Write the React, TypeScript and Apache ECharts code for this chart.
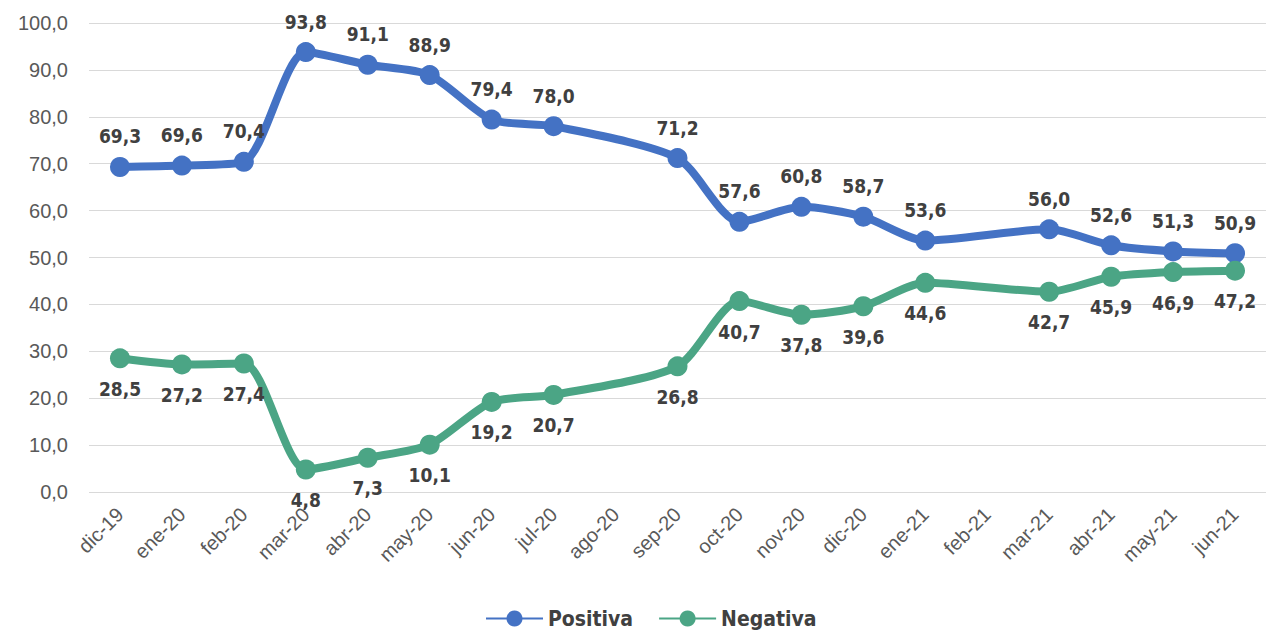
import React, { useEffect, useRef } from "react";
import * as echarts from "echarts";

const categories = ["dic-19","ene-20","feb-20","mar-20","abr-20","may-20","jun-20","jul-20","ago-20","sep-20","oct-20","nov-20","dic-20","ene-21","feb-21","mar-21","abr-21","may-21","jun-21"];
const positiva = [69.3, 69.6, 70.4, 93.8, 91.1, 88.9, 79.4, 78.0, null, 71.2, 57.6, 60.8, 58.7, 53.6, null, 56.0, 52.6, 51.3, 50.9];
const negativa = [28.5, 27.2, 27.4, 4.8, 7.3, 10.1, 19.2, 20.7, null, 26.8, 40.7, 37.8, 39.6, 44.6, null, 42.7, 45.9, 46.9, 47.2];

const fmt = (v: number) => v.toFixed(1).replace(".", ",");
const FONT = "'DejaVu Sans Condensed', 'Liberation Sans Narrow', 'Arial Narrow', 'Liberation Sans', Arial, sans-serif";
const AXFONT = "'Liberation Sans', Arial, sans-serif";

export default function App() {
  const ref = useRef<HTMLDivElement>(null);
  useEffect(() => {
    const chart = echarts.init(ref.current!, null, { renderer: "svg" });
    const labelStyle = {
      show: true,
      fontFamily: FONT,
      fontWeight: "bold" as const,
      fontSize: 19,
      color: "#404040",
      distance: 11,
      formatter: (p: any) => fmt(p.value),
    };
    chart.setOption({
      animation: false,
      backgroundColor: "#ffffff",
      grid: { left: 89, right: -6, top: 23, bottom: 143, containLabel: false },
      xAxis: {
        type: "category",
        data: categories,
        boundaryGap: true,
        axisLine: { show: false },
        axisTick: { show: false },
        axisLabel: {
          rotate: 45,
          fontFamily: AXFONT,
          fontSize: 20,
          color: "#595959",
          margin: 19,
          interval: 0,
        },
      },
      yAxis: {
        type: "value",
        min: 0,
        max: 100,
        interval: 10,
        axisLine: { show: false },
        axisTick: { show: false },
        splitLine: { lineStyle: { color: "#d9d9d9", width: 1 } },
        axisLabel: {
          formatter: (v: number) => fmt(v),
          fontFamily: AXFONT,
          fontSize: 20,
          color: "#595959",
          margin: 21,
        },
      },
      legend: {
        bottom: 1,
        left: 480,
        itemWidth: 57,
        itemHeight: 20,
        itemGap: 25,
        textStyle: { fontFamily: FONT, fontWeight: "bold", fontSize: 21, color: "#404040" },
        data: ["Positiva", "Negativa"],
      },
      series: [
        {
          name: "Positiva",
          type: "line",
          data: positiva,
          connectNulls: true,
          smooth: 0.25,
          symbol: "circle",
          symbolSize: 20,
          color: "#4472C4",
          lineStyle: { width: 8, color: "#4472C4" },
          itemStyle: { color: "#4472C4" },
          label: { ...labelStyle, position: "top" },
        },
        {
          name: "Negativa",
          type: "line",
          data: negativa,
          connectNulls: true,
          smooth: 0.25,
          symbol: "circle",
          symbolSize: 20,
          color: "#4BA585",
          lineStyle: { width: 8, color: "#4BA585" },
          itemStyle: { color: "#4BA585" },
          label: { ...labelStyle, position: "bottom" },
        },
      ],
    });
    return () => chart.dispose();
  }, []);
  return (
    <div
      ref={ref}
      style={{ position: "fixed", left: 0, top: 0, width: 1266, height: 635, overflow: "hidden" }}
    />
  );
}
